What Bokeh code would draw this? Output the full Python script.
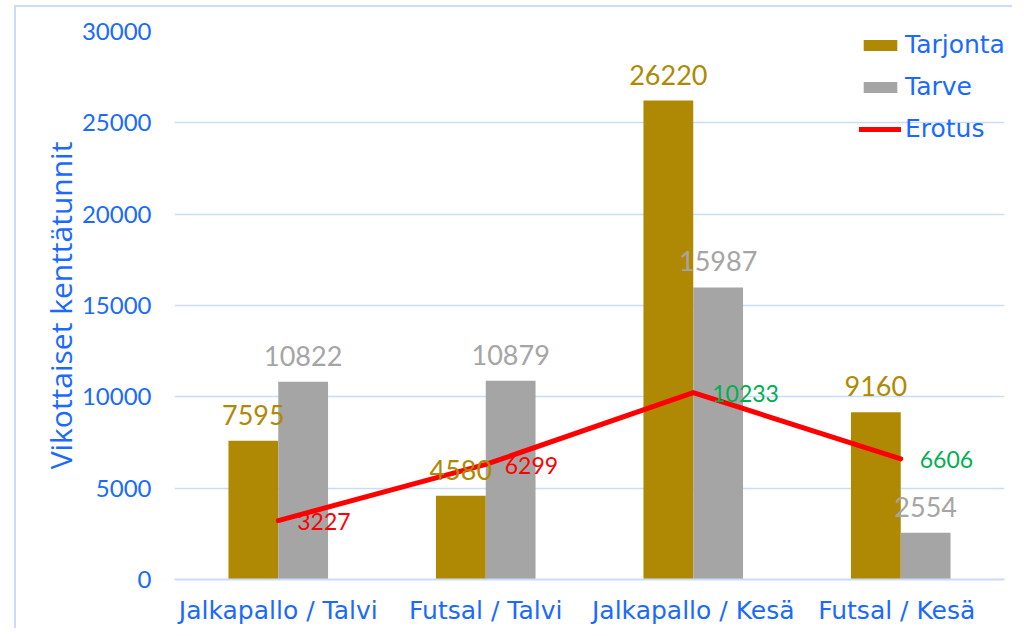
from bokeh.plotting import figure
from bokeh.models import ColumnDataSource, FactorRange, Legend, LegendItem, NumeralTickFormatter
from bokeh.transform import dodge
from bokeh.core.properties import value
from bokeh.embed import file_html
from bokeh.resources import INLINE

categories = ["Jalkapallo / Talvi", "Futsal / Talvi", "Jalkapallo / Kesä", "Futsal  / Kesä"]
tarjonta = [7595, 4580, 26220, 9160]
tarve = [10822, 10879, 15987, 2554]
erotus = [3227, 6299, 10233, 6606]
erotus_colors = ["#ff0000", "#ff0000", "#00b050", "#00b050"]

GOLD = "#b08904"
GREY = "#a5a5a5"
BLUE = "#1a6aff"
GRID = "#cbdcfa"

src = ColumnDataSource(dict(cat=categories, tarjonta=tarjonta, tarve=tarve, erotus=erotus,
                            tj_lbl=[str(v) for v in tarjonta], tv_lbl=[str(v) for v in tarve],
                            er_lbl=[str(v) for v in erotus], er_col=erotus_colors))

p = figure(x_range=FactorRange(*categories, range_padding=0), y_range=(0, 30000),
           width=1012, height=628, output_backend="svg", toolbar_location=None,
           min_border_left=174, min_border_right=8, min_border_top=31, min_border_bottom=49)
p.x_range.range_padding = 0
p.styles = {"box-shadow": ("inset 14px 0 0 0 white, inset 0 5px 0 0 white, "
                           "inset 16px 0 0 0 " + GRID + ", inset 0 7px 0 0 " + GRID)}
p.outline_line_color = None
p.background_fill_color = "white"
p.border_fill_color = None

r1 = p.vbar(x=dodge("cat", -0.12, range=p.x_range), top="tarjonta", width=0.24, source=src,
            fill_color=GOLD, line_color=None)
r2 = p.vbar(x=dodge("cat", 0.12, range=p.x_range), top="tarve", width=0.24, source=src,
            fill_color=GREY, line_color=None)
r3 = p.line(x="cat", y="erotus", source=src, line_color="#ff0000", line_width=5, line_cap="round")

p.text(x=dodge("cat", -0.12, range=p.x_range), y="tarjonta", text="tj_lbl", source=src,
       text_color=GOLD, text_font=value("Lato"), text_font_size="27px",
       text_align="center", text_baseline="middle", y_offset=-26)
p.text(x=dodge("cat", 0.12, range=p.x_range), y="tarve", text="tv_lbl", source=src,
       text_color=GREY, text_font=value("Lato"), text_font_size="27px",
       text_align="center", text_baseline="middle", y_offset=-26)
p.text(x="cat", y="erotus", text="er_lbl", source=src,
       text_color="er_col", text_font=value("Lato"), text_font_size="23px",
       text_align="left", text_baseline="middle", x_offset=19, y_offset=1)

p.xgrid.grid_line_color = None
p.ygrid.grid_line_color = GRID
p.ygrid.grid_line_width = 1.5

p.yaxis.axis_line_color = None
p.yaxis.major_tick_line_color = None
p.yaxis.minor_tick_line_color = None
p.yaxis.major_label_text_color = BLUE
p.yaxis.major_label_text_font = "Lato"
p.yaxis.major_label_text_font_size = "24px"
p.yaxis.major_label_standoff = 17
p.yaxis.formatter = NumeralTickFormatter(format="0")
p.yaxis.ticker = [0, 5000, 10000, 15000, 20000, 25000, 30000]
p.yaxis.axis_label = "Vikottaiset kenttätunnit"
p.yaxis.axis_label_text_color = BLUE
p.yaxis.axis_label_text_font = "Open Sans"
p.yaxis.axis_label_text_font_style = "normal"
p.yaxis.axis_label_text_font_size = "30px"
p.yaxis.axis_label_standoff = -2

p.xaxis.axis_line_color = GRID
p.xaxis.axis_line_width = 2
p.xaxis.major_tick_line_color = None
p.xaxis.minor_tick_line_color = None
p.xaxis.major_label_text_color = BLUE
p.xaxis.major_label_text_font = "DejaVu Sans"
p.xaxis.major_label_text_font_size = "25px"
p.xaxis.major_label_standoff = 10

legend = Legend(items=[LegendItem(label="Tarjonta", renderers=[r1]),
                       LegendItem(label="Tarve", renderers=[r2]),
                       LegendItem(label="Erotus", renderers=[r3])],
                location=(685, 436), padding=0, margin=0, spacing=13,
                glyph_width=42, glyph_height=14, label_standoff=4,
                label_text_color=BLUE, label_text_font="DejaVu Sans", label_text_font_size="25px",
                background_fill_alpha=0, border_line_color=None)
p.add_layout(legend)

open("out.html", "w").write(file_html(p, INLINE))
